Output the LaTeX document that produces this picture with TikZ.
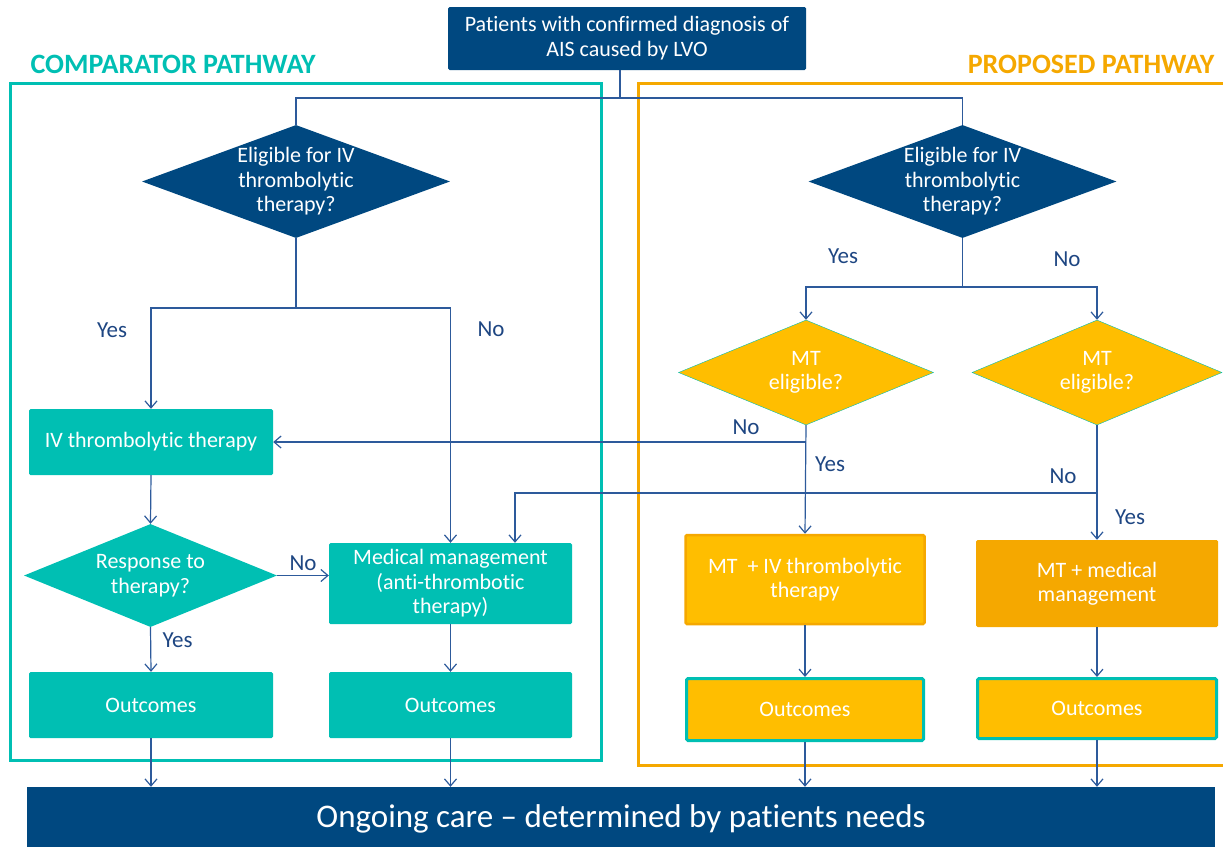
\documentclass[tikz,border=0pt]{standalone}
\usepackage{fontspec}
\setmainfont[Ligatures=NoCommon]{Carlito}
\usetikzlibrary{shapes.geometric,arrows.meta,positioning}

\definecolor{nhsblue}{RGB}{0,72,128}
\definecolor{compteal}{RGB}{0,191,179}
\definecolor{propyellow}{RGB}{255,190,0}
\definecolor{proporange}{RGB}{245,168,0}
\definecolor{linkblue}{RGB}{45,90,155}
\definecolor{lblblue}{RGB}{30,70,130}

\begin{document}
\begin{tikzpicture}[x=1pt,y=-1pt,font=\fontsize{22}{24.5}\selectfont]
\useasboundingbox (0,0) rectangle (1223,846);
% Box style
\tikzset{
    box/.style={rectangle, rounded corners=1.5pt, inner sep=0pt, align=center, text=white},
    tealbox/.style={box, fill=compteal},
    bluebox/.style={box, fill=nhsblue},
    decision/.style={diamond, inner sep=-25pt, align=center, text=white},
    link/.style={draw=linkblue, line width=1.2pt},
    arrow/.style={link, -{Straight Barb[length=7pt,width=12pt]}},
    answer/.style={text=lblblue, font=\fontsize{23}{26}\selectfont}
}
% Frames
\draw[compteal, line width=3pt] (10,83) rectangle (601,760);
\draw[proporange, line width=3pt] (638,83) rectangle (1232,765);
\node[anchor=west, text=compteal, font=\fontsize{28}{32}\selectfont\bfseries] (COMP) at (27,64) {COMPARATOR PATHWAY};
\node[anchor=east, text=proporange, font=\fontsize{28}{32}\selectfont\bfseries] (PROP) at (1218,64) {PROPOSED PATHWAY};
% Top and bottom
\node[bluebox, minimum width=358pt, minimum height=63pt, font=\fontsize{22}{25}\selectfont] (PAT) at (627,38.5) {Patients with confirmed diagnosis of\\AIS caused by LVO};
\node[bluebox, rounded corners=0pt, minimum width=1188pt, minimum height=64pt, font=\fontsize{33}{36}\selectfont] (CARE) at (621,819) {Ongoing care -- determined by patients needs};
% Comparator pathway
\node[decision, fill=nhsblue, minimum width=308pt, minimum height=113pt] (ELIGa) at (296,181.5) {Eligible for IV\\thrombolytic\\therapy?};
\node[tealbox, minimum width=244pt, minimum height=66pt] (IVa) at (151,442) {IV thrombolytic therapy};
\node[decision, fill=compteal, minimum width=253pt, minimum height=103pt] (RESP) at (150.5,575.5) {Response to\\therapy?};
\node[tealbox, minimum width=243pt, minimum height=81pt] (MEDa) at (450.5,583.5) {Medical management\\(anti-thrombotic\\therapy)};
\node[tealbox, minimum width=244pt, minimum height=66pt] (OUTa) at (151,705) {Outcomes};
\node[tealbox, minimum width=243pt, minimum height=66pt] (OUTb) at (450.5,705) {Outcomes};
% Proposed pathway
\node[decision, fill=nhsblue, minimum width=308pt, minimum height=113pt] (ELIGb) at (962.5,181.5) {Eligible for IV\\thrombolytic\\therapy?};
\node[decision, fill=propyellow, draw=compteal, minimum width=255pt, minimum height=105pt] (MTa) at (806,372.5) {MT\\eligible?};
\node[decision, fill=propyellow, draw=compteal, minimum width=250pt, minimum height=105pt] (MTb) at (1097,372.5) {MT\\eligible?};
\node[box, fill=propyellow, draw=proporange, line width=2.5pt, minimum width=239pt, minimum height=89pt] (MTIV) at (805,579.5) {MT \ + IV thrombolytic\\therapy};
\node[box, fill=proporange, minimum width=242pt, minimum height=87pt] (MTMED) at (1097,583.5) {MT + medical\\management};
\node[box, fill=propyellow, draw=compteal, line width=3pt, minimum width=237pt, minimum height=62pt] (OUTc) at (805,709.5) {Outcomes};
\node[box, fill=propyellow, draw=compteal, line width=3pt, minimum width=239pt, minimum height=60pt] (OUTd) at (1097,708.5) {Outcomes};
% Connection
\coordinate (SPLIT) at (620,98);
\draw[link] (PAT.south -| SPLIT) -- (SPLIT);
\draw[link] (ELIGa.north) |- (SPLIT) -| (ELIGb.north);

\coordinate (FORKa) at (296,308);
\draw[link] (ELIGa.south) -- (FORKa);
\draw[arrow] (FORKa) -| (IVa.north);
\draw[arrow] (FORKa) -| (MEDa.north);
\node[answer] (YESa) at (112,330) {Yes};
\node[answer] (NOa) at (491,329) {No};

\draw[arrow] (IVa.south) -- (RESP.north);
\draw[arrow] (RESP.east) -- (RESP.east -| MEDa.west) node[answer, midway, above=1pt] (NOr) {No};
\draw[arrow] (RESP.south) -- (OUTa.north) node[answer, pos=0.3, right=8pt] (YESr) {Yes};
\draw[arrow] (MEDa.south) -- (OUTb.north);
\draw[arrow] (OUTa.south) -- (OUTa.south |- CARE.north);
\draw[arrow] (OUTb.south) -- (OUTb.south |- CARE.north);

\coordinate (FORKb) at (962.5,287);
\draw[link] (ELIGb.south) -- (FORKb);
\draw[arrow] (FORKb) -| (MTa.north);
\draw[arrow] (FORKb) -| (MTb.north);
\node[answer] (YESb) at (843,256) {Yes};
\node[answer] (NOb) at (1067,259) {No};

\draw[arrow] (MTa.south) -- (MTIV.north);
\draw[arrow] (MTa.south |- IVa.east) -- (IVa.east);
\node[answer] (NOc) at (746,427) {No};
\node[answer] (YESc) at (830,464) {Yes};

\coordinate (MEDin) at (515,493);
\draw[arrow] (MTb.south) -- (MTMED.north);
\draw[arrow] (MTb.south |- MEDin) -| (MEDin |- MEDa.north);
\node[answer] (NOd) at (1063,476) {No};
\node[answer] (YESd) at (1130,517) {Yes};

\draw[arrow] (MTIV.south) -- (OUTc.north);
\draw[arrow] (MTMED.south) -- (OUTd.north);
\draw[arrow] (OUTc.south) -- (OUTc.south |- CARE.north);
\draw[arrow] (OUTd.south) -- (OUTd.south |- CARE.north);
\end{tikzpicture}
\end{document}
